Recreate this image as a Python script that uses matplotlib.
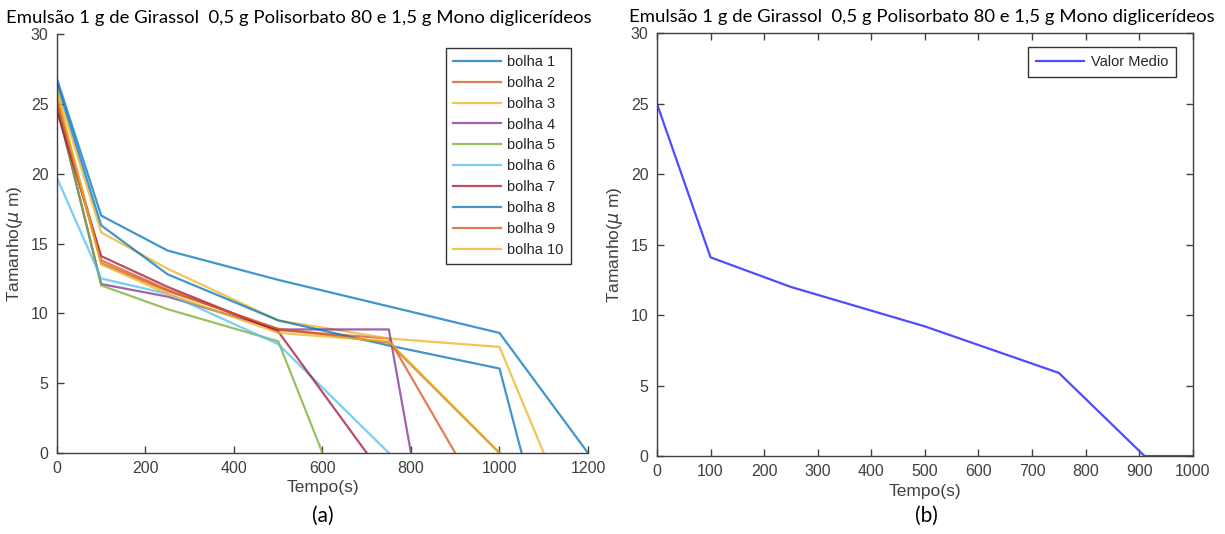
import numpy as np
import matplotlib.pyplot as plt

# tempos (s) e tamanhos (um) de cada bolha
t1 = [0, 100, 250, 500, 750, 1000, 1200]
b1 = [26.8, 17.0, 14.5, 12.4, 10.5, 8.6, 0]
t2 = [0, 100, 250, 500, 750, 900]
b2 = [25.5, 13.8, 11.7, 8.8, 8.2, 0]
t3 = [0, 100, 250, 500, 750, 1000, 1100]
b3 = [26.0, 15.8, 13.2, 9.5, 8.2, 7.6, 0]
t4 = [0, 100, 250, 500, 750, 800]
b4 = [24.8, 12.1, 11.2, 8.85, 8.85, 0]
t5 = [0, 100, 250, 500, 600]
b5 = [25.0, 12.0, 10.3, 8.0, 0]
t6 = [0, 100, 250, 500, 750]
b6 = [19.7, 12.5, 11.4, 7.8, 0]
t7 = [0, 100, 250, 500, 700]
b7 = [24.5, 14.1, 11.9, 8.7, 0]
t8 = [0, 100, 250, 500, 750, 1000, 1050]
b8 = [26.5, 16.3, 12.8, 9.5, 7.7, 6.05, 0]
t9 = [0, 100, 250, 500, 750, 1000]
b9 = [25.2, 13.6, 11.6, 8.9, 7.9, 0]
t10 = [0, 100, 250, 500, 750, 1000]
b10 = [25.8, 13.5, 11.4, 8.6, 8.0, 0]

# valor medio
t_med = [0, 100, 250, 500, 750, 910, 1000]
v_med = [25.0, 14.1, 12.0, 9.2, 5.9, 0, 0]

tempos = [t1, t2, t3, t4, t5, t6, t7, t8, t9, t10]
bolhas = [b1, b2, b3, b4, b5, b6, b7, b8, b9, b10]
nomes = ["bolha %d" % (i + 1) for i in range(10)]

# cores padrao do MATLAB
cores = ['#0072BD', '#D95319', '#EDB120', '#7E2F8E', '#77AC30',
         '#4DBEEE', '#A2142F']

titulo = "Emulsão 1 g de Girassol  0,5 g Polisorbato 80 e 1,5 g Mono diglicerídeos"
cinza = '#404040'

plt.rcParams['font.family'] = ['Liberation Sans', 'DejaVu Sans']

fig = plt.figure(figsize=(12.25, 5.34), dpi=100)
ax1 = fig.add_axes([0.0465, 0.1517, 0.4335, 0.7843])
ax2 = fig.add_axes([0.5363, 0.146, 0.4374, 0.7916])

# painel (a)
for i in range(10):
    ax1.plot(tempos[i], bolhas[i], color=cores[i % 7], lw=1.6, alpha=0.75,
             label=nomes[i])
ax1.set_xlim(0, 1200)
ax1.set_ylim(0, 30)
ax1.set_xticks(np.arange(0, 1201, 200))
ax1.set_yticks(np.arange(0, 31, 5))
ax1.spines['top'].set_visible(False)
ax1.spines['right'].set_visible(False)
leg1 = ax1.legend(loc='upper right', bbox_to_anchor=(0.982, 0.985), fontsize=10.5,
                  handlelength=3.3, handletextpad=0.45, labelspacing=0.47,
                  borderpad=0.5, fancybox=False, framealpha=1)
leg1.get_frame().set_edgecolor('#333333')
leg1.get_frame().set_linewidth(1.0)
for txt in leg1.get_texts():
    txt.set_color('#262626')

# painel (b)
ax2.plot(t_med, v_med, color='#4d4dff', lw=1.6, label="Valor Medio")
ax2.set_xlim(0, 1000)
ax2.set_ylim(0, 30)
ax2.set_xticks(np.arange(0, 1001, 100))
ax2.set_yticks(np.arange(0, 31, 5))
ax2.tick_params(top=True, right=True)
leg2 = ax2.legend(loc='upper right', bbox_to_anchor=(0.983, 0.985), fontsize=10.5,
                  handlelength=3.3, handletextpad=0.45, borderpad=0.55,
                  fancybox=False, framealpha=1)
leg2.get_frame().set_edgecolor('#333333')
leg2.get_frame().set_linewidth(1.0)
for txt in leg2.get_texts():
    txt.set_color('#262626')

for ax, tx in [(ax1, 0.456), (ax2, 0.494)]:
    ax.tick_params(direction='in', length=5, width=1, colors=cinza,
                   labelsize=11.5, pad=6)
    for s in ax.spines.values():
        s.set_color(cinza)
        s.set_linewidth(1.0)
    ax.set_xlabel("Tempo(s)", fontsize=12.5, color=cinza, labelpad=3)
    ax.set_ylabel(r"Tamanho($\mu$ m)", fontsize=12.5, color=cinza, labelpad=4)
    ax.set_title(titulo, fontsize=13.3, family='Lato', color='black', pad=8, x=tx)

fig.text(0.2637, 0.022, "(a)", fontsize=15, family='Lato', ha='center')
fig.text(0.756, 0.022, "(b)", fontsize=15, family='Lato', ha='center')

fig.savefig("out.png", dpi=100)
